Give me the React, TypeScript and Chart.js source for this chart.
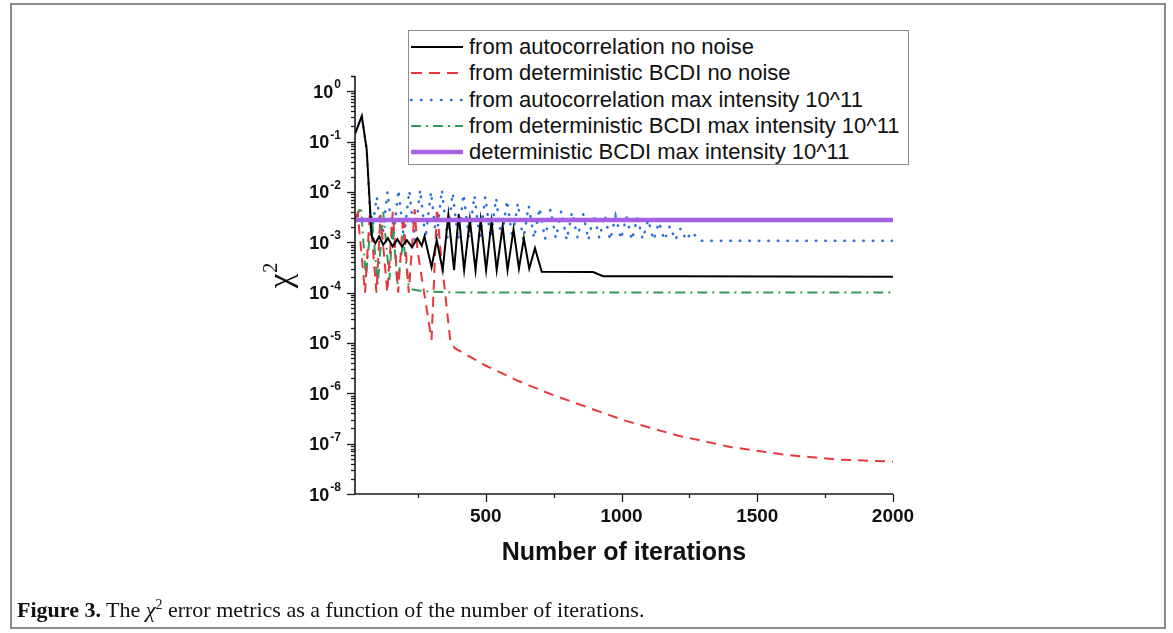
import React, { useEffect, useRef } from 'react';
import { Chart, registerables } from 'chart.js';

Chart.register(...registerables);

// ---- axes ----
const xMin = 18;
const xMax = 2000;
const yMin = 1e-8;
const yMax = 2;
const xTickLabels = [500, 1000, 1500, 2000];
const xMinorTicks = [250, 750, 1250, 1750];
const yTickExponents = [0, -1, -2, -3, -4, -5, -6, -7, -8];

// ---- series labels ----
const seriesLabels = [
  'from autocorrelation no noise',
  'from deterministic BCDI no noise',
  'from autocorrelation max intensity 10^11',
  'from deterministic BCDI max intensity 10^11',
  'deterministic BCDI max intensity 10^11',
];

// ---- black: from autocorrelation no noise ----
const blackX = [20, 43, 61, 79, 83, 93, 107, 122, 139, 157, 174, 191, 209, 228, 248, 264, 274, 300, 319, 341, 362, 383, 400, 420, 441, 462, 481, 501, 521, 540, 562, 580, 602, 622, 640, 660, 681, 706, 895, 932, 1200, 1600, 2000];
const blackY = [0.15, 0.32, 0.07, 1.4e-3, 1.2e-3, 9.5e-4, 1.3e-3, 8.8e-4, 1.2e-3, 8.2e-4, 1.15e-3, 8.2e-4, 1.1e-3, 8.0e-4, 1.2e-3, 8.5e-4, 1.3e-3, 3.2e-4, 1.1e-3, 2.8e-4, 3.5e-3, 2.8e-4, 3.6e-3, 2.8e-4, 2.8e-3, 2.8e-4, 2.8e-3, 2.8e-4, 2.6e-3, 2.8e-4, 2.1e-3, 2.8e-4, 1.8e-3, 3.0e-4, 1.2e-3, 3.0e-4, 7.6e-4, 2.6e-4, 2.55e-4, 2.12e-4, 2.1e-4, 2.08e-4, 2.07e-4];

// ---- red: from deterministic BCDI no noise ----
const redX = [20, 28, 55, 73, 97, 112, 137, 157, 177, 196, 216, 238, 248, 300, 320, 333, 370, 387, 497, 620, 742, 865, 1009, 1207, 1405, 1604, 1802, 2000];
const redY = [3.0e-3, 3.8e-3, 1.0e-4, 4.0e-3, 1.0e-4, 3.5e-3, 1.0e-4, 4.0e-3, 1.0e-4, 3.5e-3, 1.0e-4, 4.5e-3, 7.0e-4, 1.15e-5, 4.7e-3, 7.0e-4, 1.0e-5, 7.8e-6, 3.6e-6, 1.75e-6, 9.5e-7, 5.5e-7, 2.9e-7, 1.45e-7, 8.5e-8, 6.0e-8, 4.8e-8, 4.4e-8];

// ---- blue: from autocorrelation max intensity 10^11 ----
const blueX = [20, 43, 61, 78, 98, 118, 138, 158, 178, 198, 218, 238, 258, 278, 298, 318, 338, 358, 378, 398, 418, 438, 458, 478, 498, 518, 538, 558, 578, 598, 618, 638, 658, 678, 698, 718, 738, 758, 778, 798, 818, 838, 858, 878, 898, 918, 938, 958, 978, 998, 1018, 1038, 1058, 1078, 1098, 1118, 1138, 1158, 1178, 1198, 1218, 1238, 1258, 1290, 2000];
const blueY = [0.15, 0.32, 0.07, 1.3e-3, 8.0e-3, 1.2e-3, 1.0e-2, 1.1e-3, 1.1e-2, 1.2e-3, 1.05e-2, 1.1e-3, 1.1e-2, 1.2e-3, 1.0e-2, 1.1e-3, 1.1e-2, 1.2e-3, 9.5e-3, 1.1e-3, 9.0e-3, 1.2e-3, 8.5e-3, 1.1e-3, 8.0e-3, 1.2e-3, 7.5e-3, 1.1e-3, 6.8e-3, 1.2e-3, 6.0e-3, 1.1e-3, 5.3e-3, 1.2e-3, 4.8e-3, 1.15e-3, 4.5e-3, 1.2e-3, 4.2e-3, 1.1e-3, 4.0e-3, 1.2e-3, 3.8e-3, 1.1e-3, 3.6e-3, 1.2e-3, 3.5e-3, 1.1e-3, 3.3e-3, 1.15e-3, 3.2e-3, 1.1e-3, 3.1e-3, 1.15e-3, 2.8e-3, 1.1e-3, 2.5e-3, 1.1e-3, 2.1e-3, 1.1e-3, 1.9e-3, 1.1e-3, 1.6e-3, 1.07e-3, 1.07e-3];

// ---- green: from deterministic BCDI max intensity 10^11 ----
const greenX = [20, 40, 58, 79, 102, 122, 145, 157, 174, 196, 216, 231, 276, 414, 2000];
const greenY = [3.0e-3, 5.0e-3, 2.0e-4, 3.5e-3, 1.5e-4, 4.0e-3, 1.8e-4, 2.5e-3, 1.4e-4, 1.1e-3, 1.3e-4, 1.15e-4, 1.05e-4, 1.0e-4, 1.0e-4];

// ---- purple: deterministic BCDI max intensity 10^11 ----
const purpleX = [20, 2000];
const purpleY = [2.77e-3, 2.77e-3];

const colors = ['#000000', '#e8363c', '#2d6fd9', '#2f9a57', '#a461e0'];

const toPts = (xs: number[], ys: number[]) => xs.map((x, i) => ({ x, y: ys[i] }));

const axesPlugin = {
  id: 'originAxes',
  afterDraw(chart: any) {
    const ctx = chart.ctx as CanvasRenderingContext2D;
    const xs = chart.scales.x;
    const ys = chart.scales.y;
    const { left, right, top, bottom } = chart.chartArea;
    ctx.save();
    ctx.strokeStyle = '#1a1a1a';
    ctx.fillStyle = '#111';
    ctx.lineWidth = 1.6;
    ctx.beginPath();
    ctx.moveTo(left, top);
    ctx.lineTo(left, bottom);
    ctx.lineTo(right, bottom);
    ctx.stroke();
    ctx.lineWidth = 1.3;
    for (let e = -8; e <= 0; e++) {
      for (let m = 1; m <= 9; m++) {
        const v = m * Math.pow(10, e);
        if (v > yMax * 1.0001) continue;
        const py = Math.round(ys.getPixelForValue(v)) + 0.5;
        const len = m === 1 ? 8 : 4;
        ctx.beginPath();
        ctx.moveTo(left, py);
        ctx.lineTo(left - len, py);
        ctx.stroke();
      }
    }
    ctx.beginPath();
    ctx.moveTo(left, top + 0.5);
    ctx.lineTo(left - 4, top + 0.5);
    ctx.stroke();
    xTickLabels.forEach((v) => {
      const px = Math.round(xs.getPixelForValue(v)) + 0.5;
      ctx.beginPath();
      ctx.moveTo(px, bottom);
      ctx.lineTo(px, bottom + 8);
      ctx.stroke();
    });
    xMinorTicks.forEach((v) => {
      const px = Math.round(xs.getPixelForValue(v)) + 0.5;
      ctx.beginPath();
      ctx.moveTo(px, bottom);
      ctx.lineTo(px, bottom + 4);
      ctx.stroke();
    });
    const base = 'bold 18px "Liberation Sans", Arial, sans-serif';
    const sup = 'bold 12px "Liberation Sans", Arial, sans-serif';
    ctx.textBaseline = 'alphabetic';
    yTickExponents.forEach((e) => {
      const py = ys.getPixelForValue(Math.pow(10, e));
      const expText = String(e);
      ctx.font = sup;
      const ew = ctx.measureText(expText).width;
      ctx.font = base;
      const bw = ctx.measureText('10').width;
      const rightEdge = 341;
      const bx = rightEdge - ew - 1 - bw;
      ctx.textAlign = 'left';
      ctx.font = base;
      ctx.fillText('10', bx, py + 6.5);
      ctx.font = sup;
      ctx.fillText(expText, bx + bw + 1, py - 3);
    });
    ctx.font = 'bold 19px "Liberation Sans", Arial, sans-serif';
    ctx.textAlign = 'center';
    ctx.textBaseline = 'middle';
    xTickLabels.forEach((v) => {
      ctx.fillText(String(v), xs.getPixelForValue(v), bottom + 23);
    });
    ctx.font = 'bold 25px "Liberation Sans", Arial, sans-serif';
    ctx.fillText('Number of iterations', (left + right) / 2, bottom + 59);
    ctx.save();
    ctx.translate(291, 276);
    ctx.rotate(-Math.PI / 2);
    ctx.textAlign = 'left';
    ctx.textBaseline = 'alphabetic';
    ctx.font = '33px "Liberation Serif", "Times New Roman", serif';
    const cw = ctx.measureText('\u03c7').width;
    ctx.fillText('\u03c7', -cw / 2 - 5, 0);
    ctx.font = '20px "Liberation Serif", "Times New Roman", serif';
    ctx.fillText('2', cw / 2 - 4, -14);
    ctx.restore();
    ctx.restore();
  },
};

function LegendSample({ idx }: { idx: number }) {
  const c = colors[idx];
  const common = { x1: 2, y1: 6, x2: 54, y2: 6, stroke: c } as any;
  if (idx === 0) return <line {...common} strokeWidth={2} />;
  if (idx === 1) return <line {...common} strokeWidth={2} strokeDasharray="11 7" />;
  if (idx === 2) return <line {...common} strokeWidth={2.5} strokeDasharray="0.5 9.5" strokeLinecap="round" />;
  if (idx === 3) return <line {...common} strokeWidth={2} strokeDasharray="10 5 2 5" />;
  return <line {...common} strokeWidth={4.5} />;
}

export default function App() {
  const ref = useRef<HTMLCanvasElement>(null);
  useEffect(() => {
    const chart = new Chart(ref.current!, {
      type: 'line',
      data: {
        datasets: [
          { label: seriesLabels[0], data: toPts(blackX, blackY), borderColor: colors[0], borderWidth: 2, pointRadius: 0, tension: 0, order: 1 },
          { label: seriesLabels[1], data: toPts(redX, redY), borderColor: colors[1], borderWidth: 2, borderDash: [10, 7], pointRadius: 0, tension: 0, order: 2 },
          { label: seriesLabels[2], data: toPts(blueX, blueY), borderColor: colors[2], borderWidth: 2.5, borderDash: [0.5, 9], borderCapStyle: 'round', pointRadius: 0, tension: 0, order: 4 },
          { label: seriesLabels[3], data: toPts(greenX, greenY), borderColor: colors[3], borderWidth: 2, borderDash: [10, 5, 2, 5], pointRadius: 0, tension: 0, order: 3 },
          { label: seriesLabels[4], data: toPts(purpleX, purpleY), borderColor: colors[4], borderWidth: 4.5, pointRadius: 0, tension: 0, order: 0 },
        ],
      },
      options: {
        responsive: false,
        animation: false,
        events: [],
        layout: { padding: { left: 0, right: 280, top: 76, bottom: 0 } },
        plugins: { legend: { display: false }, tooltip: { enabled: false } },
        scales: {
          x: {
            type: 'linear', min: xMin, max: xMax,
            ticks: { display: false }, grid: { display: false }, border: { display: false },
            afterFit: (s: any) => { s.height = 139; },
          },
          y: {
            type: 'logarithmic', min: yMin, max: yMax,
            ticks: { display: false }, grid: { display: false }, border: { display: false },
            afterFit: (s: any) => { s.width = 355; },
          },
        },
      } as any,
      plugins: [axesPlugin],
    });
    return () => chart.destroy();
  }, []);

  return (
    <div style={{ position: 'absolute', left: 0, top: 0, width: 1173, height: 633, overflow: 'hidden', background: '#fff' }}>
      <div style={{ position: 'absolute', left: 10, top: 3, width: 1152, height: 622, border: '2px solid #8c8c8c' }} />
      <canvas ref={ref} width={1173} height={633} style={{ position: 'absolute', left: 0, top: 0, width: 1173, height: 633 }} />
      <div style={{ position: 'absolute', left: 408, top: 30, width: 499, height: 133, border: '1.5px solid #8c8c8c', background: '#fff', fontFamily: '"Liberation Sans", Arial, sans-serif', fontSize: 22, color: '#111' }}>
        {seriesLabels.map((t, i) => (
          <div key={i} style={{ position: 'absolute', left: 0, top: 3 + i * 26.25, height: 26.25, lineHeight: '26.25px', whiteSpace: 'nowrap' }}>
            <svg width={58} height={12} style={{ position: 'absolute', left: 0, top: 7 }}>
              <LegendSample idx={i} />
            </svg>
            <span style={{ position: 'absolute', left: 60, top: 0 }}>{t}</span>
          </div>
        ))}
      </div>
      <div style={{ position: 'absolute', left: 17, top: 597, fontFamily: '"Liberation Serif", "Times New Roman", serif', fontSize: 22, color: '#111', whiteSpace: 'nowrap' }}>
        <b>Figure 3.</b> The <i>{'\u03c7'}</i><sup style={{ fontSize: 14 }}>2</sup> error metrics as a function of the number of iterations.
      </div>
    </div>
  );
}
